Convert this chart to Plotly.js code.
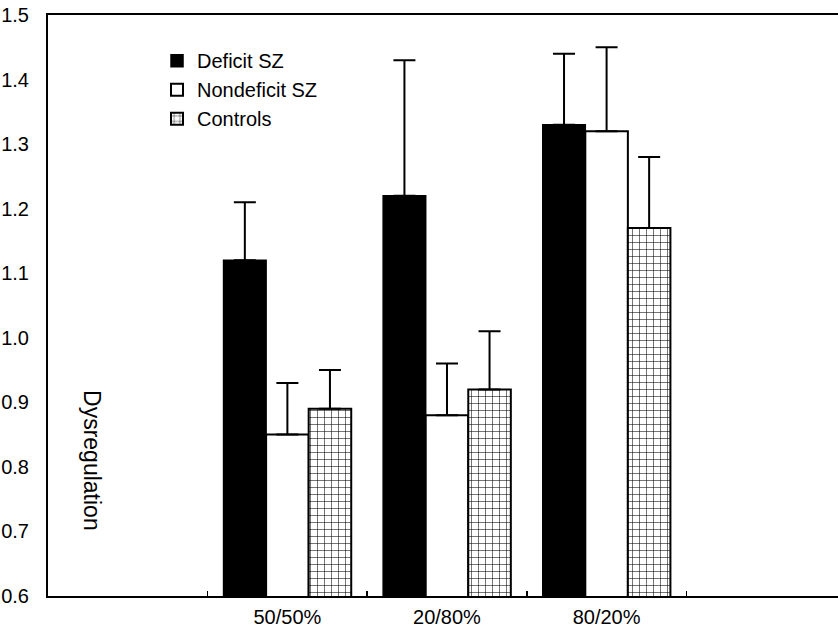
<!DOCTYPE html>
<html>
<head>
<meta charset="utf-8">
<script src="https://cdn.plot.ly/plotly-3.0.1.min.js"></script>
<style>html,body{margin:0;padding:0;background:#fff;}#chart{width:838px;height:627px;}</style>
</head>
<body>
<div id="chart"></div>
<script>
// Categories (x axis tick labels)
const categories = ["50/50%", "20/80%", "80/20%"];
// Series names
const seriesNames = ["Deficit SZ", "Nondeficit SZ", "Controls"];
// Mean dysregulation values
const deficitSZ = [1.12, 1.22, 1.33];
const nondeficitSZ = [0.85, 0.88, 1.32];
const controls = [0.89, 0.92, 1.17];
// Upper error bar sizes
const deficitErr = [0.09, 0.21, 0.11];
const nondeficitErr = [0.08, 0.08, 0.13];
const controlsErr = [0.06, 0.09, 0.11];
// Y tick values
const yTicks = [0.6, 0.7, 0.8, 0.9, 1.0, 1.1, 1.2, 1.3, 1.4, 1.5];

const FONT = "'Liberation Sans', Arial, Helvetica, sans-serif";
const zeros = n => n.map(() => 0);

function errY(arr) {
  return {type: 'data', symmetric: false, array: arr, arrayminus: zeros(arr),
          color: '#000', thickness: 2, width: 11, visible: true};
}

const traces = [
  {type: 'bar', name: seriesNames[0], x: categories, y: deficitSZ,
   marker: {color: '#000', line: {color: '#000', width: 1.5}},
   error_y: errY(deficitErr)},
  {type: 'bar', name: seriesNames[1], x: categories, y: nondeficitSZ,
   marker: {color: '#fff', line: {color: '#000', width: 2}},
   error_y: errY(nondeficitErr)},
  {type: 'bar', name: seriesNames[2], x: categories, y: controls,
   marker: {color: '#fff', line: {color: '#000', width: 2},
            pattern: {shape: '+', fgcolor: '#000', bgcolor: '#fff', size: 7, solidity: 0.15}},
   error_y: errY(controlsErr)}
];

const layout = {
  width: 838, height: 627,
  margin: {l: 48, r: 0, t: 15, b: 31, pad: 0},
  paper_bgcolor: '#fff', plot_bgcolor: '#fff',
  font: {family: FONT, size: 20, color: '#000'},
  barmode: 'group', bargap: 0.2, bargroupgap: 0,
  showlegend: true,
  legend: {x: 0.138, y: 0.955, xanchor: 'left', yanchor: 'top',
           bgcolor: 'rgba(0,0,0,0)', borderwidth: 0,
           font: {family: FONT, size: 20, color: '#000'}},
  xaxis: {type: 'category', range: [-1.5, 3.45], tickson: 'boundaries',
          ticks: 'inside', ticklen: 5, tickwidth: 1.5, tickcolor: '#000',
          showline: true, linewidth: 2, linecolor: '#000', mirror: true,
          showgrid: false, zeroline: false, automargin: false,
          ticklabelstandoff: 2,
          tickfont: {family: FONT, size: 20, color: '#000'}},
  yaxis: {range: [0.6, 1.5], tickvals: yTicks, tickformat: '.1f',
          ticks: '', showline: true, linewidth: 2, linecolor: '#000',
          showgrid: false, zeroline: false, automargin: false,
          ticklabelstandoff: 13,
          tickfont: {family: FONT, size: 20, color: '#000'}},
  annotations: [
    {text: 'Dysregulation', xref: 'paper', yref: 'paper', x: 0.0557, y: 0.234,
     xanchor: 'center', yanchor: 'middle', textangle: 90, showarrow: false,
     font: {family: FONT, size: 23, color: '#000'}}
  ]
};

Plotly.newPlot('chart', traces, layout, {displayModeBar: false, staticPlot: true});
</script>
</body>
</html>
